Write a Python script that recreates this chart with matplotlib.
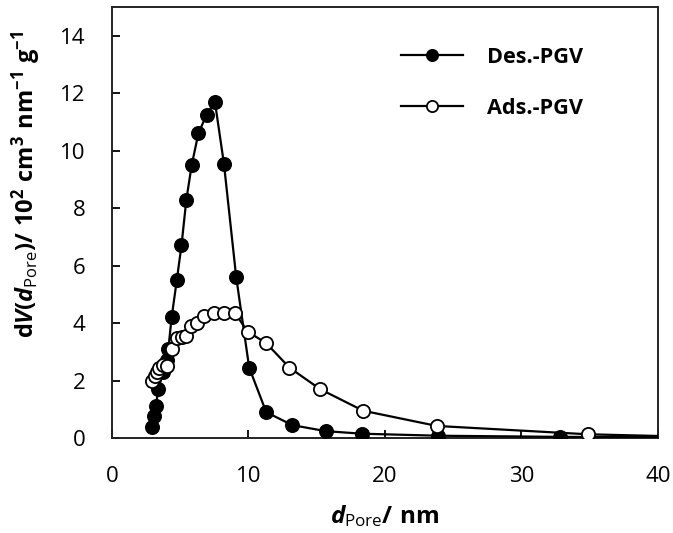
import matplotlib
matplotlib.use("Agg")
import matplotlib.pyplot as plt

# Pore size distributions
des_x = [2.96, 3.08, 3.22, 3.39, 3.76, 4.0, 4.13, 4.37, 4.75, 5.09, 5.45, 5.84, 6.33, 6.93, 7.54,
         8.2, 9.1, 10.05, 11.3, 13.2, 15.65, 18.3, 23.9, 32.8, 41.0]
des_y = [0.38, 0.78, 1.12, 1.7, 2.3, 2.7, 3.1, 4.2, 5.5, 6.7, 8.3, 9.5, 10.6, 11.25, 11.7,
         9.55, 5.6, 2.45, 0.9, 0.45, 0.24, 0.15, 0.08, 0.04, 0.03]

ads_x = [2.96, 3.15, 3.3, 3.48, 3.75, 4.0, 4.4, 4.75, 5.1, 5.45, 5.8, 6.25, 6.75, 7.45, 8.2, 9.0,
         9.95, 11.3, 13.0, 15.25, 18.4, 23.8, 34.85, 41.0]
ads_y = [2.0, 2.16, 2.3, 2.43, 2.55, 2.5, 3.1, 3.47, 3.5, 3.55, 3.9, 4.0, 4.25, 4.35, 4.35, 4.35,
         3.7, 3.3, 2.45, 1.7, 0.95, 0.42, 0.13, 0.06]

labels = ["Des.-PGV", "Ads.-PGV"]
x_ticks = [0, 10, 20, 30, 40]
y_ticks = [0, 2, 4, 6, 8, 10, 12, 14]

plt.rcParams['font.family'] = ['Open Sans', 'DejaVu Sans']
plt.rcParams['mathtext.fontset'] = 'custom'
plt.rcParams['mathtext.rm'] = 'Open Sans:bold'
plt.rcParams['mathtext.bf'] = 'Open Sans:bold'
plt.rcParams['mathtext.it'] = 'Open Sans:italic:bold'
plt.rcParams['mathtext.sf'] = 'Open Sans'

fig = plt.figure(figsize=(6.73, 5.33), dpi=100)
ax = fig.add_axes([0.1664, 0.1782, 0.8113, 0.8087])

ax.plot(des_x, des_y, color='black', lw=1.6, marker='o', ms=9.5,
        mfc='black', mec='black', mew=1.3, label=labels[0], zorder=3)
ax.plot(ads_x, ads_y, color='black', lw=1.6, marker='o', ms=9.5,
        mfc='white', mec='black', mew=1.3, label=labels[1], zorder=4)

ax.set_xlim(0, 40)
ax.set_ylim(0, 15)
ax.set_xticks(x_ticks)
ax.set_yticks(y_ticks)
ax.tick_params(direction='in', length=6, width=1.3, labelsize=16, colors='black')
ax.tick_params(axis='y', pad=19)
ax.tick_params(axis='x', pad=20.5)
for s in ax.spines.values():
    s.set_linewidth(1.4)
    s.set_color('#222222')

ax.set_xlabel(r'$\mathit{d}_{\mathsf{Pore}}\mathrm{/\ nm}$', fontsize=17.5, labelpad=11)
ax.set_ylabel(r'$\mathrm{d}\mathit{V}\mathrm{(}\mathit{d}_{\mathsf{Pore}}\mathrm{)/\ 10^{2}\ cm^{3}\ nm^{-1}\ g^{-1}}$',
              fontsize=17)
ax.yaxis.set_label_coords(-0.127, 0.589)

ax.legend(loc='upper left', bbox_to_anchor=(0.509, 0.933), frameon=False,
          prop={'weight': 'bold', 'size': 15.6}, markerscale=0.85,
          handlelength=2.86, handletextpad=1.1, labelspacing=1.4, borderpad=0)

fig.savefig('out.png', dpi=100)
